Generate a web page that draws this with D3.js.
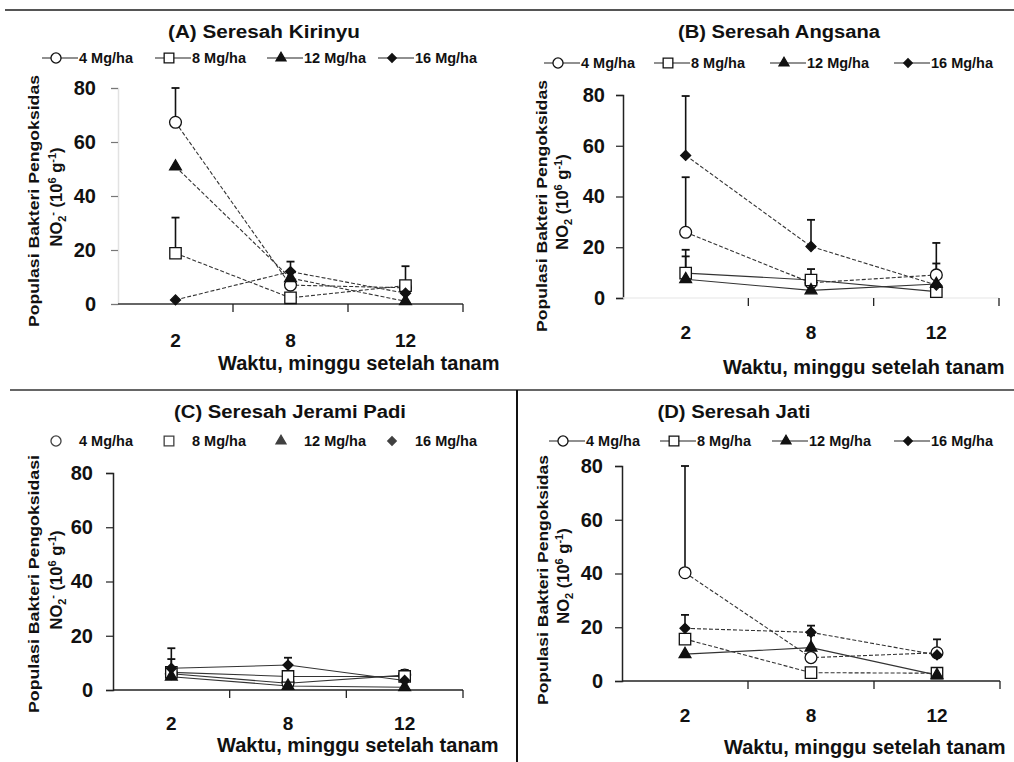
<!DOCTYPE html>
<html>
<head>
<meta charset="utf-8">
<script src="https://cdn.jsdelivr.net/npm/d3@7"></script>
<style>
  html, body { margin: 0; padding: 0; background: #fff; }
  svg { display: block; }
  text { font-family: "Liberation Sans", Arial, sans-serif; font-weight: bold; fill: #111; }
</style>
</head>
<body>
<svg id="chart" width="1014" height="762"></svg>
<script>
// ---------- DATA ----------
const weeks = ["2", "8", "12"];
const doses = ["4 Mg/ha", "8 Mg/ha", "12 Mg/ha", "16 Mg/ha"];
const yTickValues = [0, 20, 40, 60, 80];
const titles = ["(A) Seresah Kirinyu", "(B) Seresah Angsana", "(C) Seresah Jerami Padi", "(D) Seresah Jati"];
const xTitle = "Waktu, minggu setelah tanam";

// rows = doses (4, 8, 12, 16 Mg/ha), columns = weeks (2, 8, 12)
const kirinyu    = [[67.3, 7.0, 6.0], [18.8, 2.3, 6.8], [50.9, 9.6, 1.0], [1.5, 12.0, 4.0]];
const kirinyuErr = [[80, null, null], [32, null, 14], [null, null, null], [null, 15.7, null]];
const angsana    = [[25.9, 6.0, 9.1], [9.8, 7.1, 2.5], [7.4, 3.0, 5.5], [56.2, 20.3, 5.1]];
const angsanaErr = [[47.6, null, 21.7], [19, 11.4, null], [16.4, null, null], [79.6, 30.8, 13.6]];
const jerami     = [[6.0, 2.5, 5.5], [6.5, 5.0, 5.0], [4.9, 1.5, 1.0], [8.0, 9.2, 3.5]];
const jeramiErr  = [[11.4, null, 7.4], [null, null, null], [null, null, null], [15.4, 11.9, null]];
const jati       = [[40.3, 8.7, 10.5], [15.6, 3.1, 2.9], [10.0, 12.4, 2.2], [19.6, 18.1, 9.7]];
const jatiErr    = [[80, null, 15.5], [null, null, null], [null, 17, null], [24.6, 20.6, null]];

// ---------- LAYOUT ----------
const svg = d3.select("#chart");
svg.append("rect").attr("width", 1014).attr("height", 762).attr("fill", "#fff");

// frame lines
svg.append("line").attr("x1", 5).attr("x2", 1014).attr("y1", 10).attr("y2", 10)
  .attr("stroke", "#555").attr("stroke-width", 2);
svg.append("line").attr("x1", 10).attr("x2", 1014).attr("y1", 390).attr("y2", 390)
  .attr("stroke", "#333").attr("stroke-width", 1.5);
svg.append("line").attr("x1", 517).attr("x2", 517).attr("y1", 390).attr("y2", 762)
  .attr("stroke", "#111").attr("stroke-width", 2);

const markerTypes = ["circle", "square", "triangle", "diamond"];

function markerPath(type, big) {
  const k = big ? 1 : 0.85;
  if (type === "circle") return d3.symbol(d3.symbolCircle, 110 * k * k)();
  if (type === "square") return d3.symbol(d3.symbolSquare, 130 * k * k)();
  if (type === "triangle") return d3.symbol(d3.symbolTriangle, 60 * k * k)();
  return d3.symbol(d3.symbolSquare, 50 * k * k)();
}
function drawMarker(g, type, x, y, big, opacity) {
  const p = g.append("path").attr("d", markerPath(type, big))
    .attr("transform", `translate(${x},${y})` + (type === "diamond" ? " rotate(45)" : ""))
    .attr("stroke", "#111").attr("stroke-width", 1.3);
  if (type === "circle" || type === "square") p.attr("fill", "#fff");
  else p.attr("fill", "#111");
  if (opacity) p.attr("opacity", opacity);
}

const panels = [
  { title: titles[0], values: kirinyu, errs: kirinyuErr,
    x0: 118, x1: 463, y0: 304, y80: 88, tickPad: 15, yLineColor: "#e2e2e2", xLineColor: "#333", yTickColor: "#777",
    titleX: 264, titleY: 38, titleLen: 192,
    legendY: 58, legendX: [42, 155, 267, 378], legendLines: true,
    yt1: "Populasi Bakteri Pengoksidas", ytX: [39, 62], ytCY: 201, ytLen: 252, minus: true,
    xtickY: 347, xtitleX: 218, xtitleY: 370,
    dash: ["4,2", "4,2", "4,2", "4,2"] },
  { title: titles[1], values: angsana, errs: angsanaErr,
    x0: 623, x1: 999, y0: 298, y80: 95, tickPad: 11, yLineColor: "#222", xLineColor: "#eee", yTickColor: "#222",
    titleX: 779, titleY: 38, titleLen: 202,
    legendY: 63, legendX: [544, 654, 770, 894], legendLines: true,
    yt1: "Populasi Bakteri Pengoksidas", ytX: [547, 568], ytCY: 206, ytLen: 252, minus: false,
    xtickY: 339, xtitleX: 723, xtitleY: 374,
    dash: ["4,2", null, null, "4,2"] },
  { title: titles[2], values: jerami, errs: jeramiErr,
    x0: 113, x1: 463, y0: 690, y80: 473, tickPad: 13, yLineColor: "#222", xLineColor: "#222", yTickColor: "#222",
    titleX: 290, titleY: 418, titleLen: 232,
    legendY: 441, legendX: [42, 155, 267, 378], legendLines: false,
    yt1: "Populasi Bakteri Pengoksidasi", ytX: [39, 62], ytCY: 584, ytLen: 258, minus: true,
    xtickY: 730, xtitleX: 217, xtitleY: 752,
    dash: [null, null, null, null] },
  { title: titles[3], values: jati, errs: jatiErr,
    x0: 622, x1: 1000, y0: 681, y80: 466, tickPad: 12, yLineColor: "#222", xLineColor: "#222", yTickColor: "#222",
    titleX: 734, titleY: 418, titleLen: 153,
    legendY: 441, legendX: [549, 660, 772, 894], legendLines: true,
    yt1: "Populasi Bakteri Pengoksidas", ytX: [548, 569], ytCY: 580, ytLen: 250, minus: false,
    xtickY: 722, xtitleX: 724, xtitleY: 754,
    dash: ["4,2", "4,2", null, "4,2"] }
];

panels.forEach(p => {
  const g = svg.append("g");
  const x = d3.scaleBand().domain(weeks).range([p.x0, p.x1]);
  const y = d3.scaleLinear().domain([0, 80]).range([p.y0, p.y80]);
  const cx = w => x(w) + x.bandwidth() / 2;

  // title
  g.append("text").attr("x", p.titleX).attr("y", p.titleY).attr("text-anchor", "middle")
    .attr("font-size", 18).attr("textLength", p.titleLen).attr("lengthAdjust", "spacingAndGlyphs")
    .text(p.title);

  // legend
  doses.forEach((d, i) => {
    const lx = p.legendX[i];
    const lg = g.append("g");
    if (p.legendLines) {
      lg.append("line").attr("x1", lx).attr("x2", lx + 36).attr("y1", p.legendY).attr("y2", p.legendY)
        .attr("stroke", "#222").attr("stroke-width", 1.2);
    }
    drawMarker(lg, markerTypes[i], lx + 14, p.legendY, false, p.legendLines ? null : 0.8);
    lg.append("text").attr("x", lx + 37).attr("y", p.legendY + 5).attr("font-size", 14.5).text(d);
  });

  // y axis
  const yAxis = d3.axisLeft(y).tickValues(yTickValues).tickSize(7).tickPadding(p.tickPad);
  const ya = g.append("g").attr("transform", `translate(${p.x0},0)`).call(yAxis);
  ya.select(".domain").attr("stroke", p.yLineColor).attr("stroke-width", 1.5);
  ya.selectAll(".tick line").attr("stroke", p.yTickColor).attr("stroke-width", 1.2);
  ya.selectAll(".tick text").attr("font-size", 20).attr("font-family", "Liberation Sans, Arial, sans-serif")
    .attr("font-weight", "bold").attr("fill", "#111");

  // x axis: line + boundary ticks, labels at centers
  g.append("line").attr("x1", p.x0).attr("x2", p.x1).attr("y1", p.y0).attr("y2", p.y0)
    .attr("stroke", p.xLineColor).attr("stroke-width", 1.3);
  weeks.forEach(w => {
    const bx = x(w) + x.bandwidth();
    g.append("line").attr("x1", bx).attr("x2", bx).attr("y1", p.y0).attr("y2", p.y0 + 8)
      .attr("stroke", "#222").attr("stroke-width", 1.3);
    g.append("text").attr("x", cx(w)).attr("y", p.xtickY).attr("text-anchor", "middle")
      .attr("font-size", 19).text(w);
  });
  g.append("text").attr("x", p.xtitleX).attr("y", p.xtitleY).attr("font-size", 20).text(xTitle);

  // y title (two lines)
  g.append("text").attr("transform", `translate(${p.ytX[0]},${p.ytCY}) rotate(-90)`)
    .attr("text-anchor", "middle").attr("font-size", 15)
    .attr("textLength", p.ytLen).attr("lengthAdjust", "spacingAndGlyphs").text(p.yt1);
  const t2 = g.append("text").attr("transform", `translate(${p.ytX[1]},${p.ytCY - 4}) rotate(-90)`)
    .attr("text-anchor", "middle").attr("font-size", 16.5);
  t2.append("tspan").text("NO");
  t2.append("tspan").attr("font-size", 11).attr("dy", 4).text("2");
  if (p.minus) t2.append("tspan").attr("font-size", 11).attr("dy", -10).text("-");
  t2.append("tspan").attr("dy", p.minus ? 6 : -4).text(" (10");
  t2.append("tspan").attr("font-size", 11).attr("dy", -6).text("6");
  t2.append("tspan").attr("dy", 6).text(" g");
  t2.append("tspan").attr("font-size", 11).attr("dy", -6).text("-1");
  t2.append("tspan").attr("dy", 6).text(")");

  // series lines
  const line = d3.line().x((d, j) => cx(weeks[j])).y(d => y(d));
  p.values.forEach((vals, i) => {
    g.append("path").attr("d", line(vals)).attr("fill", "none")
      .attr("stroke", "#333").attr("stroke-width", 1.1)
      .attr("stroke-dasharray", p.dash[i]);
  });
  // error bars
  p.errs.forEach((errs, i) => {
    errs.forEach((e, j) => {
      if (e === null) return;
      const ex = cx(weeks[j]);
      g.append("line").attr("x1", ex).attr("x2", ex).attr("y1", y(p.values[i][j])).attr("y2", y(e))
        .attr("stroke", "#111").attr("stroke-width", 1.6);
      g.append("line").attr("x1", ex - 4).attr("x2", ex + 4).attr("y1", y(e)).attr("y2", y(e))
        .attr("stroke", "#111").attr("stroke-width", 1.8);
    });
  });
  // markers
  p.values.forEach((vals, i) => {
    vals.forEach((v, j) => drawMarker(g, markerTypes[i], cx(weeks[j]), y(v), true));
  });
});
</script>
</body>
</html>
